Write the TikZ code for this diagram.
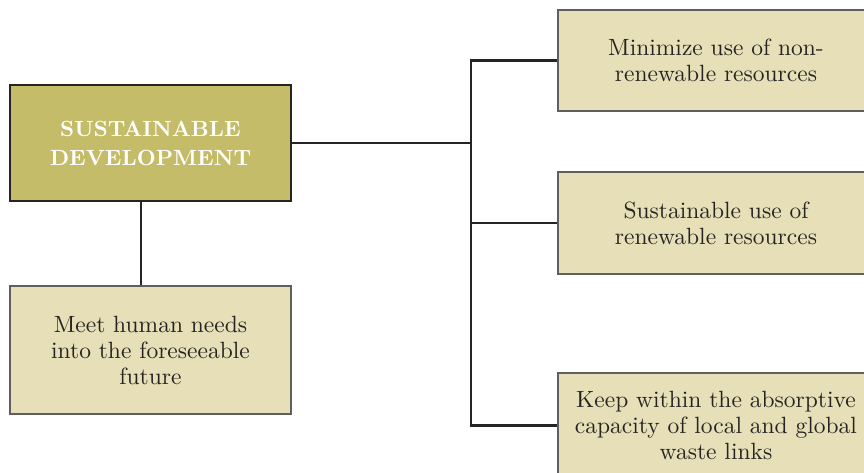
\documentclass[tikz,border=0pt]{standalone}
\usepackage{fontspec}
\setmainfont{lmroman10-regular.otf}[BoldFont=lmroman10-bold.otf]
\usepackage{tikz}
\usetikzlibrary{positioning,calc}
\definecolor{olivefill}{RGB}{196,188,104}
\definecolor{paleolive}{RGB}{230,223,183}
\definecolor{inkgray}{RGB}{38,36,34}
\definecolor{edgegray}{RGB}{95,95,95}

\begin{document}
\begin{tikzpicture}[x=1pt,y=-1pt,
    mainbox/.style={draw=inkgray, line width=2.8pt, fill=olivefill, text=white,
        font=\fontsize{22}{29}\selectfont\bfseries, align=center, inner sep=0pt},
    goalbox/.style={draw=edgegray, line width=1.4pt, fill=paleolive, text=inkgray,
        font=\fontsize{23.5}{26}\selectfont, align=center, inner sep=0pt},
    link/.style={draw=inkgray, line width=2.2pt}]
    \useasboundingbox (0,0) rectangle (864,473);
    \clip (0,0) rectangle (864,473);

    % Central concept
    \node[mainbox, minimum width=281pt, minimum height=116pt] (sd) at (150.5,143)
        {SUSTAINABLE\\DEVELOPMENT};

    % Goal below
    \node[goalbox, minimum width=281pt, minimum height=128pt] (needs) at (150.5,350)
        {Meet human needs\\into the foreseeable\\future};
    \coordinate (drop) at (141,0);
    \draw[link] (sd.south -| drop) -- (needs.north -| drop);

    % Branch trunk
    \coordinate (trunk) at (471,0);

    % Right hand goals
    \foreach \name/\y/\h/\txt in {
        minimize/60.5/101/{Minimize use of non-\\renewable resources},
        renew/223/102/{Sustainable use of\\renewable resources},
        absorb/425.5/105/{Keep within the absorptive\\capacity of local and global\\waste links}%
    } {
        \node[goalbox, minimum width=316pt, minimum height=\h pt] (\name) at (716,\y) {\txt};
    }

    % Connectors
    \draw[link] (sd.east) -- (sd.east -| trunk);
    \draw[link] (minimize.west) -- (minimize.west -| trunk) |- (absorb.west);
    \draw[link] (renew.west) -- (renew.west -| trunk);
\end{tikzpicture}
\end{document}
